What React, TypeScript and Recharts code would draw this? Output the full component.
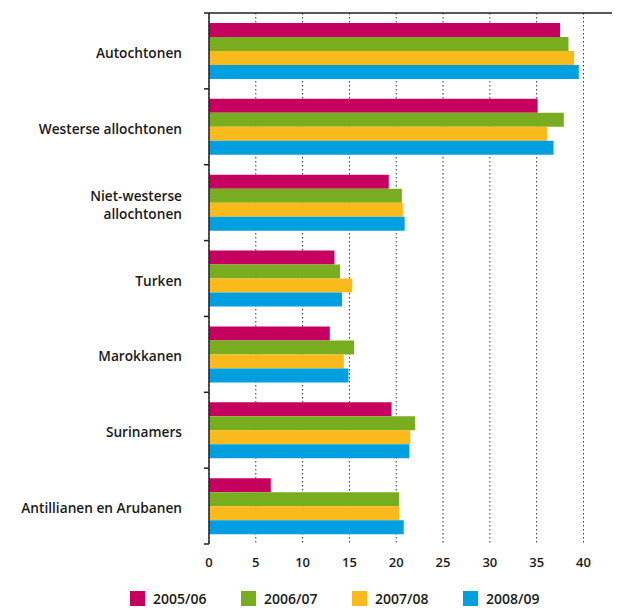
import React from 'react';
import {
  BarChart,
  Bar,
  XAxis,
  YAxis,
  CartesianGrid,
  Legend,
} from 'recharts';

const groups = [
  'Autochtonen',
  'Westerse allochtonen',
  'Niet-westerse\nallochtonen',
  'Turken',
  'Marokkanen',
  'Surinamers',
  'Antillianen en Arubanen',
];
const seriesNames = ['2005/06', '2006/07', '2007/08', '2008/09'];
const y2005 = [37.5, 35.1, 19.2, 13.4, 12.9, 19.5, 6.6];
const y2006 = [38.4, 37.9, 20.6, 14.0, 15.5, 22.0, 20.3];
const y2007 = [39.0, 36.1, 20.7, 15.3, 14.4, 21.5, 20.3];
const y2008 = [39.5, 36.8, 20.9, 14.2, 14.9, 21.4, 20.8];
const xTicks = [0, 5, 10, 15, 20, 25, 30, 35, 40];

const colors = ['#c5005f', '#78ad1f', '#fbba1c', '#009fe0'];
const font = '"Open Sans", "Noto Sans", sans-serif';

const data = groups.map((name, i) => ({
  name,
  [seriesNames[0]]: y2005[i],
  [seriesNames[1]]: y2006[i],
  [seriesNames[2]]: y2007[i],
  [seriesNames[3]]: y2008[i],
}));

const CHART_W = 612;
const CHART_H = 602;
const TOP = 4;
const AXIS_W = 201;
const PLOT_BOTTOM = 536;
const band = (PLOT_BOTTOM - TOP - 1) / groups.length;

function GroupTick(props: any) {
  const { y, payload, index } = props;
  const lines = String(payload.value).split('\n');
  const axisX = AXIS_W;
  return (
    <g>
      <line x1={axisX - 5} x2={axisX} y1={y - band / 2} y2={y - band / 2} stroke="#231f20" strokeWidth={1.5} />
      {index === groups.length - 1 && (
        <line x1={axisX - 5} x2={axisX} y1={y + band / 2} y2={y + band / 2} stroke="#231f20" strokeWidth={1.5} />
      )}
      <text textAnchor="end" fontFamily={font} fontWeight={600} fontSize={13.7} fill="#1a1a1a">
        {lines.map((l, k) => (
          <tspan key={k} x={axisX - 27} y={y + 7 + (k - (lines.length - 1) / 2) * 18}>
            {l}
          </tspan>
        ))}
      </text>
    </g>
  );
}

function LegendContent() {
  return (
    <div style={{ display: 'flex', paddingLeft: 122, height: 22, alignItems: 'center' }}>
      {seriesNames.map((s, i) => (
        <div key={s} style={{ display: 'flex', alignItems: 'center', width: 111 }}>
          <span style={{ display: 'inline-block', width: 15, height: 15, background: colors[i], marginRight: 8 }} />
          <span style={{ fontFamily: font, fontWeight: 600, fontSize: 14, color: '#1a1a1a' }}>{s}</span>
        </div>
      ))}
    </div>
  );
}

export default function App() {
  return (
    <BarChart
      width={CHART_W}
      height={CHART_H}
      data={data}
      layout="vertical"
      margin={{ top: TOP, right: 0, bottom: 1, left: 0 }}
      barGap={0}
    >
      <CartesianGrid horizontal={false} stroke="#333" strokeDasharray="1.5 2.5" />
      <XAxis
        type="number"
        domain={[0, 43.9]}
        ticks={xTicks}
        axisLine={false}
        tickLine={false}
        tickSize={6}
        tickMargin={8}
        height={43}
        tick={{ fontFamily: font, fontWeight: 600, fontSize: 13, fill: '#1a1a1a' }}
      />
      <XAxis
        xAxisId="top"
        orientation="top"
        type="number"
        domain={[0, 43.9]}
        tick={false}
        tickLine={false}
        height={1}
        axisLine={{ stroke: '#231f20', strokeWidth: 1.5 }}
      />
      <YAxis
        type="category"
        dataKey="name"
        width={AXIS_W}
        tickLine={false}
        axisLine={{ stroke: '#231f20', strokeWidth: 1.5 }}
        tick={<GroupTick />}
        interval={0}
      />
      <Legend verticalAlign="bottom" content={<LegendContent />} />
      {seriesNames.map((s, i) => (
        <Bar key={s} dataKey={s} fill={colors[i]} barSize={14} isAnimationActive={false} />
      ))}
    </BarChart>
  );
}
